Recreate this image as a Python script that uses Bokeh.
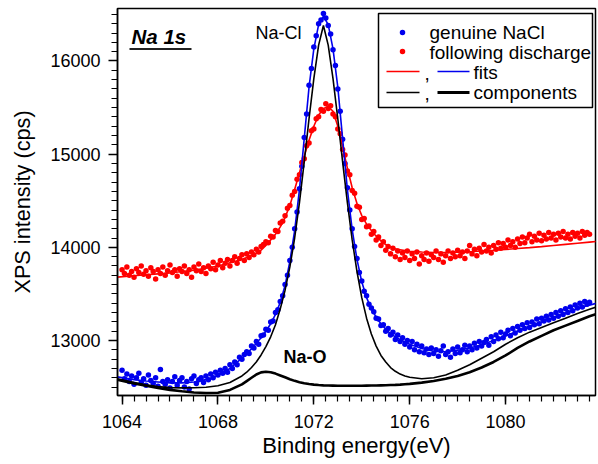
import numpy as np
from bokeh.plotting import figure
from bokeh.models import SingleIntervalTicker, BoxAnnotation, Label
from bokeh.embed import file_html
from bokeh.resources import INLINE

# ---------------- data ----------------
scan_start = 1064.0   # eV
scan_step = 0.1       # eV

genuine_nacl = [
    12680, 12590, 12640, 12560, 12620, 12530, 12600, 12650, 12550, 12590,
    12520, 12630, 12570, 12540, 12600, 12510, 12690, 12560, 12530, 12580,
    12490, 12560, 12610, 12520, 12570, 12600, 12500, 12560, 12480, 12590,
    12620, 12540, 12580, 12600, 12550, 12620, 12580, 12640, 12600, 12660,
    12630, 12680, 12650, 12700, 12660, 12740, 12700, 12770, 12740, 12820,
    12800, 12850, 12880, 12860, 12940, 12920, 12990, 12960, 13050, 13060,
    13120, 13110, 13200, 13210, 13300, 13330, 13420, 13480, 13600, 13700,
    13860, 14000, 14200, 14380, 14630, 14870, 15180, 15430, 15740, 15920,
    16150, 16270, 16400, 16440, 16510, 16460, 16380, 16290, 16120, 15950,
    15700, 15460, 15160, 14900, 14640, 14400, 14200, 14010, 13880, 13730,
    13640, 13530, 13480, 13390, 13350, 13310, 13240, 13230, 13160, 13170,
    13100, 13130, 13060, 13090, 13010, 13060, 12990, 13030, 12960, 13000,
    12930, 12990, 12900, 12960, 12880, 12940, 12870, 12910, 12850, 12920,
    12860, 12900, 12830, 12890, 12940, 12850, 12880, 12820, 12910, 12860,
    12930, 12870, 12900, 12950, 12880, 12940, 12900, 12970, 12920, 12990,
    12940, 12980, 13010, 12950, 13040, 12990, 13060, 13020, 13090, 13030,
    13070, 13110, 13050, 13130, 13080, 13150, 13110, 13170, 13130, 13190,
    13140, 13200, 13170, 13230, 13180, 13240, 13210, 13260, 13220, 13280,
    13240, 13300, 13260, 13320, 13280, 13340, 13300, 13360, 13320, 13380,
    13350, 13400, 13360, 13420, 13390, 13410,
]

following_discharge = [
    13760, 13720, 13790, 13700, 13740, 13680, 13770, 13730, 13800, 13710,
    13750, 13690, 13780, 13740, 13660, 13760, 13720, 13790, 13700, 13750,
    13810, 13730, 13760, 13690, 13770, 13740, 13800, 13720, 13760, 13680,
    13790, 13750, 13820, 13740, 13780, 13720, 13800, 13770, 13840, 13760,
    13810, 13860, 13780, 13830, 13870, 13800, 13860, 13900, 13830, 13880,
    13920, 13860, 13930, 13890, 13950, 13920, 13980, 13950, 14010, 14030,
    14060, 14050, 14120, 14110, 14180, 14170, 14260, 14280, 14340, 14420,
    14450, 14560, 14600, 14730, 14780, 14910, 14950, 15090, 15120, 15250,
    15270, 15380, 15400, 15480, 15460, 15540, 15490, 15520, 15430, 15400,
    15270, 15220, 15050, 14990, 14820, 14780, 14610, 14580, 14440, 14430,
    14300, 14310, 14220, 14230, 14140, 14170, 14080, 14110, 14020, 14060,
    13970, 14010, 13930, 13990, 13900, 13960, 13870, 13940, 13890, 13960,
    13860, 13930, 13880, 13950, 13820, 13910, 13870, 13940, 13850, 13920,
    13890, 13960, 13870, 13930, 13840, 13910, 13960, 13880, 13940, 13900,
    13970, 13910, 13950, 13880, 13960, 14020, 13930, 13980, 13910, 13990,
    13950, 14030, 13960, 14000, 13940, 14020, 13980, 14050, 13990, 14040,
    14000, 14080, 14020, 14060, 14000, 14090, 14040, 14110, 14050, 14100,
    14140, 14060, 14120, 14080, 14150, 14070, 14130, 14090, 14160, 14100,
    14140, 14080, 14150, 14110, 14170, 14100, 14140, 14090, 14160, 14120,
    14150, 14100, 14170, 14130, 14160, 14140,
]

fit_energy = [
    1063.8, 1064.5, 1065.0, 1065.5, 1066.0, 1066.5, 1067.0, 1067.5, 1068.0, 1068.5,
    1069.0, 1069.2, 1069.4, 1069.6, 1069.8, 1070.0, 1070.2, 1070.4, 1070.6, 1070.8,
    1071.0, 1071.2, 1071.4, 1071.6, 1071.8, 1072.0, 1072.2, 1072.4, 1072.6, 1072.8,
    1073.0, 1073.2, 1073.4, 1073.6, 1073.8, 1074.0, 1074.2, 1074.4, 1074.6, 1074.8,
    1075.0, 1075.2, 1075.4, 1075.6, 1075.8, 1076.0, 1076.5, 1077.0, 1077.5, 1078.0,
    1078.5, 1079.0, 1079.5, 1080.0, 1080.5, 1081.0, 1081.5, 1082.0, 1082.5, 1083.0,
    1083.5, 1083.8,
]

fit_genuine = [
    12610, 12580, 12565, 12555, 12545, 12545, 12555, 12580, 12625, 12700,
    12810, 12860, 12910, 12970, 13030, 13100, 13180, 13280, 13410, 13590,
    13850, 14180, 14620, 15170, 15720, 16130, 16390, 16480, 16390, 16130,
    15720, 15170, 14620, 14190, 13870, 13630, 13460, 13340, 13250, 13180,
    13120, 13075, 13040, 13010, 12985, 12960, 12915, 12885, 12880, 12895,
    12920, 12955, 13000, 13050, 13100, 13150, 13200, 13250, 13295, 13340,
    13380, 13400,
]

fit_discharge = [
    13680, 13695, 13705, 13715, 13725, 13740, 13755, 13775, 13800, 13835,
    13870, 13890, 13912, 13938, 13970, 14020, 14080, 14140, 14220, 14320,
    14450, 14620, 14800, 14980, 15150, 15300, 15420, 15490, 15510, 15460,
    15300, 15080, 14850, 14640, 14470, 14340, 14250, 14180, 14120, 14070,
    14030, 14000, 13985, 13975, 13965, 13958, 13950, 13945, 13945, 13948,
    13953, 13960, 13968, 13977, 13987, 13997, 14008, 14020, 14032, 14044,
    14056, 14063,
]

component_nacl = [
    12590, 12550, 12525, 12505, 12495, 12492, 12493, 12498, 12515, 12550,
    12620, 12660, 12710, 12770, 12845, 12935, 13040, 13170, 13340, 13540,
    13790, 14100, 14480, 14920, 15380, 15810, 16170, 16380, 16170, 15810,
    15380, 14920, 14480, 14080, 13740, 13460, 13240, 13070, 12940, 12840,
    12770, 12710, 12670, 12640, 12620, 12605, 12590, 12600, 12630, 12680,
    12740, 12810, 12880, 12960, 13030, 13090, 13140, 13190, 13240, 13290,
    13335, 13360,
]

component_nao = [
    12580, 12540, 12515, 12490, 12470, 12455, 12443, 12437, 12440, 12470,
    12530, 12565, 12600, 12635, 12658, 12665, 12660, 12645, 12625, 12605,
    12585, 12567, 12553, 12542, 12533, 12527, 12522, 12519, 12517, 12516,
    12515, 12515, 12515, 12515, 12515, 12515, 12516, 12517, 12518, 12519,
    12520, 12522, 12524, 12527, 12531, 12535, 12548, 12565, 12590, 12620,
    12660, 12710, 12770, 12840, 12920, 12990, 13050, 13110, 13160, 13210,
    13260, 13285,
]

x_major_step = 4
y_major_step = 1000
X_RANGE = (1063.81, 1083.75)
Y_RANGE = (12410, 16563)

BLUE = "#0000ee"
RED = "#ff0000"
FONT = "Liberation Sans"

scan_energy = np.round(scan_start + scan_step * np.arange(len(genuine_nacl)), 2)
scan_energy_r = np.round(scan_start + scan_step * np.arange(len(following_discharge)), 2)

# ---------------- figure ----------------
p = figure(width=598, height=464, x_range=X_RANGE, y_range=Y_RANGE,
           output_backend="svg", toolbar_location=None,
           min_border_left=117, min_border_right=3, min_border_top=8, min_border_bottom=69)
p.background_fill_color = "white"
p.border_fill_color = "white"
p.outline_line_color = "black"
p.outline_line_width = 1.5
p.outline_line_alpha = 1.0
p.xgrid.visible = False
p.ygrid.visible = False

p.xaxis.ticker = SingleIntervalTicker(interval=x_major_step, num_minor_ticks=8)
p.yaxis.ticker = SingleIntervalTicker(interval=y_major_step, num_minor_ticks=10)
p.xaxis.axis_label = "Binding energy(eV)"
p.yaxis.axis_label = "XPS intensity (cps)"
for ax, lab_size, lab_stand, tick_stand in ((p.xaxis, "22px", 2, 10), (p.yaxis, "21.7px", 12, 8)):
    ax.axis_label_text_font = FONT
    ax.axis_label_text_font_size = lab_size
    ax.axis_label_text_font_style = "normal"
    ax.axis_label_text_color = "black"
    ax.axis_label_standoff = lab_stand
    ax.major_label_text_font = FONT
    ax.major_label_text_font_size = "18px"
    ax.major_label_text_color = "black"
    ax.major_label_standoff = tick_stand
    ax.axis_line_color = "black"
    ax.axis_line_width = 1.5
    ax.major_tick_line_color = "black"
    ax.minor_tick_line_color = "black"
    ax.major_tick_line_width = 1.5
    ax.minor_tick_line_width = 1.2
    ax.major_tick_in = 0
    ax.minor_tick_in = 0
    ax.major_tick_out = 9
    ax.minor_tick_out = 6

# ---------------- data glyphs ----------------
p.scatter(scan_energy, genuine_nacl, size=5.5, color=BLUE, line_width=0)
p.scatter(scan_energy_r, following_discharge, size=5.5, color=RED, line_width=0)
p.line(fit_energy, fit_discharge, line_color=RED, line_width=1.6)
p.line(fit_energy, fit_genuine, line_color=BLUE, line_width=1.6)
p.line(fit_energy, component_nao, line_color="black", line_width=2.6)
p.line(fit_energy, component_nacl, line_color="black", line_width=1.6)

# ---------------- annotations (positions as fractions of the frame) ----------------
REF_L, REF_R, REF_T, REF_B = 117.0, 595.0, 8.0, 395.0
TEXT_DY = -6.0   # correction for the renderer's baseline placement

def fx(px):
    return X_RANGE[0] + (px - REF_L) / (REF_R - REF_L) * (X_RANGE[1] - X_RANGE[0])

def fy(py):
    return Y_RANGE[0] + (REF_B - py) / (REF_B - REF_T) * (Y_RANGE[1] - Y_RANGE[0])

def text(px, py, s, size, style="normal"):
    p.add_layout(Label(x=fx(px), y=fy(py + TEXT_DY), text=s, text_font=FONT, text_font_size=size,
                       text_font_style=style, text_align="left", text_baseline="alphabetic",
                       text_color="black"))

# panel title and peak labels
text(131, 42, "Na 1s", "20.5px", "bold italic")
p.line([fx(129), fx(191)], [fy(48.5), fy(48.5)], line_color="#222222", line_width=2)
text(255, 38.5, "Na-Cl", "18px")
text(283, 362.5, "Na-O", "18px", "bold")

# legend box
p.add_layout(BoxAnnotation(left=fx(378), right=fx(592), bottom=fy(107), top=fy(13),
                           fill_alpha=0, line_color="black", line_width=1.5, line_alpha=1))
p.scatter([fx(402)], [fy(32)], size=5.5, color=BLUE, line_width=0)
p.scatter([fx(402)], [fy(51)], size=5.5, color=RED, line_width=0)
text(429, 38, "genuine NaCl", "19px")
text(429, 57.5, "following discharge", "19px")
p.line([fx(386), fx(419)], [fy(71), fy(71)], line_color=RED, line_width=1.6)
text(424, 78.5, ",", "19px")
p.line([fx(437), fx(469)], [fy(71), fy(71)], line_color=BLUE, line_width=1.6)
text(473, 77.5, "fits", "19px")
p.line([fx(386), fx(419)], [fy(92), fy(92)], line_color="black", line_width=1.6)
text(424, 99, ",", "19px")
p.line([fx(437), fx(469)], [fy(92), fy(92)], line_color="black", line_width=3)
text(473, 98, "components", "19px")

open("out.html", "w").write(file_html(p, INLINE))
